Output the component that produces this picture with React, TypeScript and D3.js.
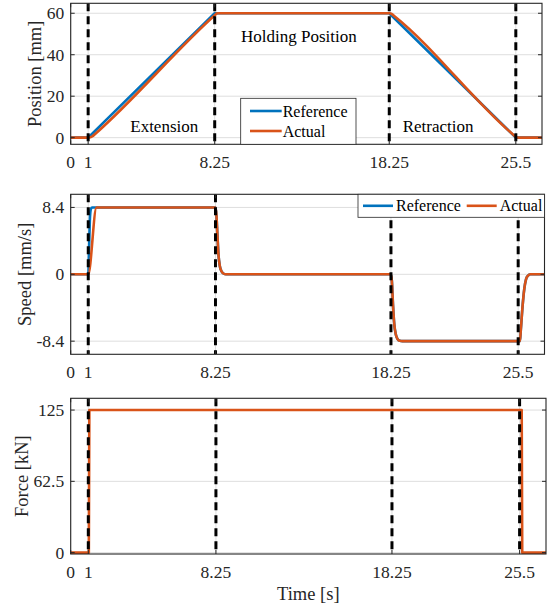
import { useRef, useEffect } from 'react'
import * as d3 from 'd3'

type Pt = [number, number]

const BLUE = '#0072BD'
const ORANGE = '#D95319'
const FONT = "'Liberation Serif','Times New Roman',serif"

// shared time axis
const xDomain: Pt = [0, 27]
const xTicks = [0, 1, 8.25, 18.25, 25.5]
const xTickLabels = ['0', '1', '8.25', '18.25', '25.5']
const phaseTimes = [1, 8.25, 18.25, 25.5]

// position [mm]
const posTicks = [0, 20, 40, 60]
const posTickLabels = ['0', '20', '40', '60']
const posRef: Pt[] = [[0, 0], [1, 0], [8.25, 60], [18.25, 60], [25.5, 0], [27, 0]]
const posAct: Pt[] = [
  [0, 0], [1.02, 0], [1.12, 0.15], [1.25, 0.7], [1.4, 1.8], [8.3, 59.4], [8.36, 59.85], [8.45, 60],
  [18.28, 60], [18.4, 59.6], [18.55, 58.6], [25.4, 1.1], [25.5, 0.4], [25.6, 0.05], [25.7, 0], [27, 0],
]

// speed [mm/s]
const speedTicks = [-8.4, 0, 8.4]
const speedTickLabels = ['-8.4', '0', '8.4']
const speedRef: Pt[] = [
  [0, 0], [1, 0], [1.05, 3.5], [1.1, 7.2], [1.15, 8.2], [1.22, 8.4], [8.25, 8.4], [8.3, 7.6], [8.36, 5],
  [8.42, 2.5], [8.5, 1.0], [8.6, 0.35], [8.7, 0.1], [8.85, 0], [18.25, 0], [18.3, -0.8], [18.37, -4],
  [18.44, -6.3], [18.52, -7.5], [18.62, -8.1], [18.75, -8.35], [18.9, -8.4], [25.6, -8.4], [25.65, -7],
  [25.75, -4], [25.85, -1.8], [25.95, -0.6], [26.05, -0.2], [26.2, 0], [27, 0],
]
const speedAct: Pt[] = [
  [0, 0], [1, 0], [1.47, 8.4], [8.25, 8.4], [8.3, 7.6], [8.36, 5], [8.42, 2.5], [8.5, 1.0], [8.6, 0.35],
  [8.7, 0.1], [8.85, 0], [18.25, 0], [18.3, -0.8], [18.37, -4], [18.44, -6.3], [18.52, -7.5], [18.62, -8.1],
  [18.75, -8.35], [18.9, -8.4], [25.6, -8.4], [25.65, -7], [25.75, -4], [25.85, -1.8], [25.95, -0.6],
  [26.05, -0.2], [26.2, 0], [27, 0],
]

// force [kN]
const forceTicks = [0, 62.5, 125]
const forceTickLabels = ['0', '62.5', '125']
const forceAct: Pt[] = [[0, 0], [1.03, 0], [1.06, 125], [25.62, 125], [25.65, 0], [27, 0]]

// phase annotations (top panel, data coords)
const phaseNames = ['Extension', 'Holding Position', 'Retraction']
const phaseLabelPos: Pt[] = [[5.36, 5.6], [13.07, 48.7], [21.05, 5.3]]

const legendNames = ['Reference', 'Actual']

interface Panel {
  top: number
  bottom: number
  right: number
  yDomain: Pt
  ticks: number[]
  tickLabels: string[]
  label: string
  labelX: number
  series: { data: Pt[]; color: string; curve: d3.CurveFactory }[]
  legend?: 'box' | 'row'
}

const LEFT = 70.7

const panels: Panel[] = [
  {
    top: 3.3, bottom: 144.3, right: 542, yDomain: [-3.2, 64.8],
    ticks: posTicks, tickLabels: posTickLabels, label: 'Position [mm]', labelX: 35,
    series: [
      { data: posRef, color: BLUE, curve: d3.curveLinear },
      { data: posAct, color: ORANGE, curve: d3.curveMonotoneX },
    ],
    legend: 'box',
  },
  {
    top: 194.3, bottom: 354.3, right: 544.5, yDomain: [-10.05, 10.05],
    ticks: speedTicks, tickLabels: speedTickLabels, label: 'Speed [mm/s]', labelX: 25,
    series: [
      { data: speedRef, color: BLUE, curve: d3.curveMonotoneX },
      { data: speedAct, color: ORANGE, curve: d3.curveMonotoneX },
    ],
    legend: 'row',
  },
  {
    top: 398.3, bottom: 554, right: 546, yDomain: [-1.2, 135.3],
    ticks: forceTicks, tickLabels: forceTickLabels, label: 'Force [kN]', labelX: 22,
    series: [{ data: forceAct, color: ORANGE, curve: d3.curveLinear }],
  },
]

function drawPanel(svg: d3.Selection<SVGSVGElement, unknown, null, undefined>, p: Panel, i: number) {
  const x = d3.scaleLinear().domain(xDomain).range([LEFT, p.right])
  const y = d3.scaleLinear().domain(p.yDomain).range([p.bottom, p.top])
  const g = svg.append('g')

  const clipId = `clip-${i}`
  g.append('clipPath').attr('id', clipId)
    .append('rect')
    .attr('x', LEFT).attr('y', p.top)
    .attr('width', p.right - LEFT).attr('height', p.bottom - p.top)

  // grid
  p.ticks.forEach((t) => {
    g.append('line')
      .attr('x1', LEFT).attr('x2', p.right).attr('y1', y(t)).attr('y2', y(t))
      .attr('stroke', '#dedede').attr('stroke-width', 1)
  })
  xTicks.forEach((t) => {
    g.append('line')
      .attr('x1', x(t)).attr('x2', x(t)).attr('y1', p.top).attr('y2', p.bottom)
      .attr('stroke', '#dedede').attr('stroke-width', 1)
  })

  // data
  const plot = g.append('g').attr('clip-path', `url(#${clipId})`)
  p.series.forEach((s) => {
    const line = d3.line<Pt>().x((d) => x(d[0])).y((d) => y(d[1])).curve(s.curve)
    plot.append('path')
      .attr('d', line(s.data))
      .attr('fill', 'none').attr('stroke', s.color)
      .attr('stroke-width', 2.6).attr('stroke-linejoin', 'round')
  })

  // phase boundaries
  phaseTimes.forEach((t) => {
    plot.append('line')
      .attr('x1', x(t)).attr('x2', x(t)).attr('y1', p.top).attr('y2', p.bottom)
      .attr('stroke', '#000').attr('stroke-width', 3)
      .attr('stroke-dasharray', '8,5')
  })

  // axes box + inward ticks
  g.append('rect')
    .attr('x', LEFT).attr('y', p.top)
    .attr('width', p.right - LEFT).attr('height', p.bottom - p.top)
    .attr('fill', 'none').attr('stroke', '#262626').attr('stroke-width', 1.1)
  const tk = 4
  p.ticks.forEach((t, k) => {
    g.append('line').attr('x1', LEFT).attr('x2', LEFT + tk).attr('y1', y(t)).attr('y2', y(t))
      .attr('stroke', '#262626')
    g.append('line').attr('x1', p.right - tk).attr('x2', p.right).attr('y1', y(t)).attr('y2', y(t))
      .attr('stroke', '#262626')
    g.append('text')
      .attr('x', LEFT - 6.5).attr('y', y(t))
      .attr('text-anchor', 'end').attr('dominant-baseline', 'central')
      .attr('font-family', FONT).attr('font-size', '17.5px').attr('fill', '#262626')
      .text(p.tickLabels[k])
  })
  xTicks.forEach((t, k) => {
    g.append('line').attr('x1', x(t)).attr('x2', x(t)).attr('y1', p.bottom - tk).attr('y2', p.bottom)
      .attr('stroke', '#262626')
    g.append('line').attr('x1', x(t)).attr('x2', x(t)).attr('y1', p.top).attr('y2', p.top + tk)
      .attr('stroke', '#262626')
    g.append('text')
      .attr('x', x(t)).attr('y', p.bottom + 24)
      .attr('text-anchor', 'middle')
      .attr('font-family', FONT).attr('font-size', '17.5px').attr('fill', '#262626')
      .text(xTickLabels[k])
  })

  // y label
  const cy = (p.top + p.bottom) / 2
  g.append('text')
    .attr('transform', `translate(${p.labelX},${cy}) rotate(-90)`)
    .attr('text-anchor', 'middle').attr('dominant-baseline', 'central')
    .attr('font-family', FONT).attr('font-size', '18.5px').attr('fill', '#262626')
    .text(p.label)

  if (i === 0) {
    phaseNames.forEach((name, k) => {
      g.append('text')
        .attr('x', x(phaseLabelPos[k][0])).attr('y', y(phaseLabelPos[k][1]))
        .attr('text-anchor', 'middle').attr('dominant-baseline', 'central')
        .attr('font-family', FONT).attr('font-size', '17px').attr('fill', '#000')
        .text(name)
    })
  }

  const colors = p.series.length > 1 ? p.series.map((s) => s.color) : []
  if (p.legend === 'box') {
    const lg = g.append('g')
    lg.append('rect')
      .attr('x', 240.7).attr('y', 98.3).attr('width', 115.3).attr('height', p.bottom - 98.3)
      .attr('fill', '#fff').attr('stroke', '#262626').attr('stroke-width', 0.8)
    legendNames.forEach((name, k) => {
      const ly = 111 + k * 20
      lg.append('line').attr('x1', 250).attr('x2', 281.7).attr('y1', ly).attr('y2', ly)
        .attr('stroke', colors[k]).attr('stroke-width', 2.6)
      lg.append('text').attr('x', 282.7).attr('y', ly)
        .attr('dominant-baseline', 'central')
        .attr('font-family', FONT).attr('font-size', '16px').attr('fill', '#000')
        .text(name)
    })
  } else if (p.legend === 'row') {
    const lg = g.append('g')
    lg.append('rect')
      .attr('x', 358).attr('y', p.top).attr('width', p.right - 358).attr('height', 23)
      .attr('fill', '#fff').attr('stroke', '#262626').attr('stroke-width', 0.8)
    const ly = p.top + 11.5
    const starts = [363, 466.7]
    legendNames.forEach((name, k) => {
      lg.append('line').attr('x1', starts[k]).attr('x2', starts[k] + 30).attr('y1', ly).attr('y2', ly)
        .attr('stroke', colors[k]).attr('stroke-width', 2.6)
      lg.append('text').attr('x', starts[k] + 33).attr('y', ly)
        .attr('dominant-baseline', 'central')
        .attr('font-family', FONT).attr('font-size', '16px').attr('fill', '#000')
        .text(name)
    })
  }
}

export default function App() {
  const svgRef = useRef<SVGSVGElement>(null)

  useEffect(() => {
    if (!svgRef.current) return
    const svg = d3.select(svgRef.current)
    svg.selectAll('*').remove()
    svg.append('rect').attr('width', 549).attr('height', 607).attr('fill', '#fff')
    panels.forEach((p, i) => drawPanel(svg, p, i))
    svg.append('text')
      .attr('x', (LEFT + 546) / 2).attr('y', 600)
      .attr('text-anchor', 'middle')
      .attr('font-family', FONT).attr('font-size', '18.5px').attr('fill', '#262626')
      .text('Time [s]')
  }, [])

  return (
    <svg
      ref={svgRef}
      width={549}
      height={607}
      style={{ position: 'fixed', left: 0, top: 0, display: 'block' }}
    />
  )
}
